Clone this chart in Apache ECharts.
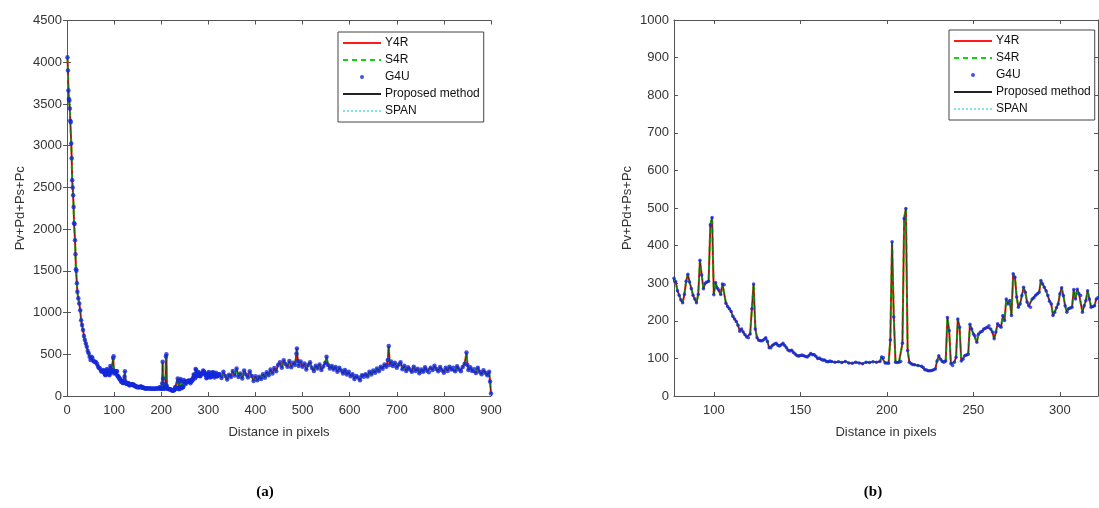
<!DOCTYPE html>
<html>
<head>
<meta charset="utf-8">
<script src="https://cdn.jsdelivr.net/npm/echarts@6/dist/echarts.min.js"></script>
<style>
  html, body { margin: 0; padding: 0; background: #fff; }
  #main { width: 1099px; height: 508px; }
</style>
</head>
<body>
<div id="main"></div>
<script>
// distance in pixels (x) and Pv+Pd+Ps+Pc (y)
const dist = [
  1, 2, 3, 4, 5, 6, 7, 8, 9, 10, 11, 12, 13, 14, 15, 16, 17, 18, 19, 20, 21, 22, 24, 26, 28, 30,
  32, 34, 36, 38, 40, 42, 44, 46, 48, 50, 52, 54, 56, 58, 60, 62, 64, 66, 68, 70, 72, 74, 76,
  77, 78, 79, 80, 81, 82, 83, 84, 85, 86, 87, 88, 89, 90, 91, 92, 93, 94, 95, 96, 97, 98, 99,
  100, 101, 102, 103, 104, 105, 106, 107, 108, 109, 110, 111, 112, 113, 114, 115, 116, 117, 118, 119,
  120, 121, 122, 123, 124, 125, 126, 127, 128, 129, 130, 131, 132, 133, 134, 135, 136, 137, 138, 139,
  140, 141, 142, 143, 144, 145, 146, 147, 148, 149, 150, 151, 152, 153, 154, 155, 156, 157, 158, 159,
  160, 161, 162, 163, 164, 165, 166, 167, 168, 170, 172, 174, 176, 178, 180, 182, 184, 186, 188, 190,
  192, 194, 196, 197, 198, 199, 200, 201, 202, 203, 204, 205, 206, 207, 208, 209, 210, 211, 212, 213,
  214, 215, 216, 218, 220, 221, 222, 223, 224, 225, 226, 227, 228, 229, 230, 231, 232, 233, 234, 235,
  236, 237, 238, 239, 240, 241, 242, 243, 244, 245, 246, 247, 248, 249, 250, 251, 252, 253, 254, 255,
  256, 257, 258, 259, 260, 261, 262, 263, 264, 265, 266, 267, 268, 269, 270, 271, 272, 273, 274, 275,
  276, 277, 278, 279, 280, 281, 282, 283, 284, 285, 286, 287, 288, 289, 290, 291, 292, 293, 294, 295,
  296, 297, 298, 299, 300, 301, 302, 303, 304, 305, 306, 307, 308, 309, 310, 311, 312, 313, 314, 315,
  316, 317, 318, 319, 320, 321, 322,
  324, 328, 332, 336, 340, 344, 348,
  352, 356, 360, 364, 368, 372, 376, 380, 384, 388, 392, 396, 400,
  404, 408, 412, 416, 420, 424, 428, 432, 436,
  440, 444, 448, 452, 456, 460, 464, 468, 472, 476, 480, 484,
  487, 488, 490, 492,
  496, 500, 504, 508, 512, 516, 520, 524, 528, 532, 536, 540, 544, 548,
  551,
  554, 558, 562, 566, 570, 574, 578, 582, 586, 590, 594, 598,
  602, 606, 610, 614, 618, 622, 626, 630,
  634, 638, 642, 646, 650, 654, 658, 662, 666, 670, 674, 678,
  681, 683, 685, 688,
  692, 696, 700, 704, 708, 712, 716, 720, 724, 728, 732, 736, 740, 744, 748, 752, 756, 760, 764, 768,
  772, 776, 780, 784, 788, 792, 796, 800, 804, 808, 812, 816, 820, 824, 828, 832, 836, 840, 844,
  848, 850, 852,
  856, 860, 864, 868, 872, 876, 880, 884, 888, 892, 896,
  898, 900
];
const power = [
  4060, 3900, 3660, 3560, 3540, 3445, 3300, 3283, 3027, 2848, 2585, 2500, 2405, 2265, 2070, 2060, 1867, 1700, 1520, 1500, 1352, 1248, 1172, 1110, 1029, 909,
  850, 790, 720, 670, 630, 590, 540, 513, 470, 430, 470, 455, 420, 410, 410, 400, 380, 350, 335, 330, 300, 290, 300,
  313, 304, 280, 268, 255, 248, 270, 305, 324, 303, 286, 268, 258, 248, 270, 361, 322, 285, 300, 303, 305, 455, 475,
  269, 302, 287, 282, 270, 298, 296, 247, 238, 232, 225, 212, 205, 198, 188, 172, 178, 170, 163, 157,
  155, 165, 232, 298, 178, 155, 148, 147, 147, 150, 155, 145, 128, 128, 135, 138, 140, 135, 133, 136,
  140, 134, 128, 122, 120, 122, 116, 112, 108, 106, 108, 109, 107, 105, 104, 108, 113, 110, 110, 106,
  100, 101, 98, 95, 96, 92, 91, 93, 92, 90, 91, 89, 92, 88, 87, 90, 88, 86, 90, 89,
  91, 90, 92, 104, 102, 88, 88, 87, 149, 410, 210, 90, 89, 90, 92, 140, 472, 499, 121, 90,
  86, 84, 83, 81, 79, 76, 70, 69, 67, 67, 68, 70, 72, 93, 107, 98, 92, 90, 93, 209,
  174, 86, 81, 90, 103, 205, 183, 93, 98, 107, 109, 111, 191, 178, 165, 160, 143, 165, 170, 172,
  178, 180, 183, 187, 178, 170, 152, 170, 192, 187, 183, 214, 201, 258, 245, 254, 214, 325, 316, 263,
  236, 245, 267, 289, 276, 250, 240, 236, 258, 261, 268, 272, 276, 307, 298, 289, 280, 267, 252, 245,
  214, 223, 235, 245, 272, 288, 267, 240, 223, 232, 234, 236, 283, 258, 284, 272, 267, 223, 240, 254,
  280, 258, 236, 238, 240, 258, 262,
  262, 215, 290, 240, 198, 255, 228,
  300, 245, 330, 228, 270, 210, 305, 258, 222, 296, 240, 180, 236,
  188, 232, 205, 262, 220, 285, 248, 318, 270,
  335, 298, 372, 404, 338, 428, 382, 352, 418, 345, 398, 372,
  505, 570, 420, 360,
  412, 350, 388, 318, 372, 405, 336, 300, 362, 330, 378, 312, 355, 396,
  470,
  372, 330, 360, 318, 348, 290, 338, 305, 270, 312, 258, 290,
  238, 262, 205, 240, 222, 190, 248, 230,
  262, 235, 292, 258, 305, 280, 330, 296, 352, 328, 378, 350,
  430, 600, 372, 412,
  360, 398, 340, 375, 405, 322, 362, 300, 345, 318, 290, 352, 300, 328, 272, 318, 290, 345, 306, 285,
  340, 312, 362, 325, 298, 348, 310, 280, 338, 300, 352, 318, 340, 296, 358, 322, 298, 348, 385,
  520, 372, 312,
  345, 300, 322, 276, 338, 290, 262, 310, 278, 250, 292,
  175, 30
];
const methods = ["Y4R", "S4R", "G4U", "Proposed method", "SPAN"];
const xTicksB = [100, 150, 200, 250, 300];

const pts = dist.map((d, i) => [d, power[i]]);
const axisColor = "#555";
const labelStyle = { color: "#333", fontSize: 13, fontFamily: "Liberation Sans" };
const plain = v => String(v); // no thousands separator

// 5 overlaid series for one grid
function makeSeries(g, dot) {
  return [
    { name: "SPAN", type: "line", xAxisIndex: g * 2, yAxisIndex: g * 2, data: pts, symbol: "none", z: 2,
      lineStyle: { color: "#7fe3f0", width: 1, type: "dotted" }, itemStyle: { color: "#7fe3f0" } },
    { name: "Y4R", type: "line", xAxisIndex: g * 2, yAxisIndex: g * 2, data: pts, symbol: "none", z: 3,
      lineStyle: { color: "#ff1a1a", width: 2 }, itemStyle: { color: "#ff1a1a" } },
    { name: "S4R", type: "line", xAxisIndex: g * 2, yAxisIndex: g * 2, data: pts, symbol: "none", z: 4,
      lineStyle: { color: "#12d312", width: 2, type: [5, 4] }, itemStyle: { color: "#12d312" } },
    { name: "Proposed method", type: "line", xAxisIndex: g * 2, yAxisIndex: g * 2, data: pts, symbol: "none", z: 5,
      lineStyle: { color: "#222", width: 0.7 }, itemStyle: { color: "#222" } },
    { name: "G4U", type: "scatter", xAxisIndex: g * 2, yAxisIndex: g * 2, data: pts, z: 6,
      symbol: "circle", symbolSize: dot, itemStyle: { color: "#1428dc" } }
  ];
}

function makeLegend(left, top) {
  return {
    left: left, top: top, orient: "vertical",
    // line entries show only their line, G4U only its dot
    data: methods.map(m => m === "G4U"
      ? { name: m, icon: "circle" }
      : { name: m, itemStyle: { opacity: 0 } }),
    itemWidth: 38, itemHeight: 4, itemGap: 5,
    padding: [5, 4, 5, 4],
    borderColor: "#444", borderWidth: 1, backgroundColor: "#fff",
    textStyle: { color: "#111", fontSize: 12, fontFamily: "Liberation Sans", padding: [0, 0, 0, -1] },
    selectedMode: false
  };
}

function yAxes(g, max) {
  return [
    { gridIndex: g, type: "value", min: 0, max: max, interval: max === 4500 ? 500 : 100,
      name: "Pv+Pd+Ps+Pc", nameLocation: "middle", nameGap: 40,
      nameTextStyle: labelStyle,
      axisLine: { show: true, lineStyle: { color: axisColor } },
      axisTick: { show: true, inside: true, length: 4, lineStyle: { color: axisColor } },
      axisLabel: Object.assign({ margin: 5, formatter: plain }, labelStyle),
      splitLine: { show: false } },
    { gridIndex: g, type: "value", position: "right", min: 0, max: max, interval: max === 4500 ? 500 : 100,
      axisLine: { show: true, lineStyle: { color: axisColor } },
      axisTick: { show: true, inside: true, length: 4, lineStyle: { color: axisColor } },
      axisLabel: { show: false }, splitLine: { show: false } }
  ];
}

const chart = echarts.init(document.getElementById("main"));
chart.setOption({
  animation: false,
  title: [
    { text: "(a)", left: 260, top: 480, textAlign: "center",
      textStyle: { fontFamily: "Liberation Serif", fontWeight: "bold", fontSize: 15, color: "#000" } },
    { text: "(b)", left: 868, top: 480, textAlign: "center",
      textStyle: { fontFamily: "Liberation Serif", fontWeight: "bold", fontSize: 15, color: "#000" } }
  ],
  legend: [makeLegend(338, 32), makeLegend(949, 30)],
  grid: [
    { left: 67, top: 20.5, width: 424, height: 375.5 },
    { left: 674, top: 20, width: 424, height: 376 }
  ],
  xAxis: [
    { gridIndex: 0, type: "value", min: 0, max: 900, interval: 100,
      name: "Distance in pixels", nameLocation: "middle", nameGap: 30, nameTextStyle: labelStyle,
      axisLine: { show: true, onZero: false, lineStyle: { color: axisColor } },
      axisTick: { show: true, inside: true, length: 4, lineStyle: { color: axisColor } },
      axisLabel: Object.assign({ margin: 8, formatter: plain }, labelStyle), splitLine: { show: false } },
    { gridIndex: 0, type: "value", position: "top", min: 0, max: 900, interval: 100,
      axisLine: { show: true, onZero: false, lineStyle: { color: axisColor } },
      axisTick: { show: true, inside: true, length: 4, lineStyle: { color: axisColor } },
      axisLabel: { show: false }, splitLine: { show: false } },
    { gridIndex: 1, type: "value", min: 77, max: 322,
      name: "Distance in pixels", nameLocation: "middle", nameGap: 30, nameTextStyle: labelStyle,
      axisLine: { show: true, onZero: false, lineStyle: { color: axisColor } },
      axisTick: { show: true, inside: true, length: 4, customValues: xTicksB, lineStyle: { color: axisColor } },
      axisLabel: Object.assign({ margin: 8, customValues: xTicksB, formatter: plain }, labelStyle), splitLine: { show: false } },
    { gridIndex: 1, type: "value", position: "top", min: 77, max: 322,
      axisLine: { show: true, onZero: false, lineStyle: { color: axisColor } },
      axisTick: { show: true, inside: true, length: 4, customValues: xTicksB, lineStyle: { color: axisColor } },
      axisLabel: { show: false }, splitLine: { show: false } }
  ],
  yAxis: yAxes(0, 4500).concat(yAxes(1, 1000)),
  series: makeSeries(0, 4.5).concat(makeSeries(1, 3.5))
});
</script>
</body>
</html>
